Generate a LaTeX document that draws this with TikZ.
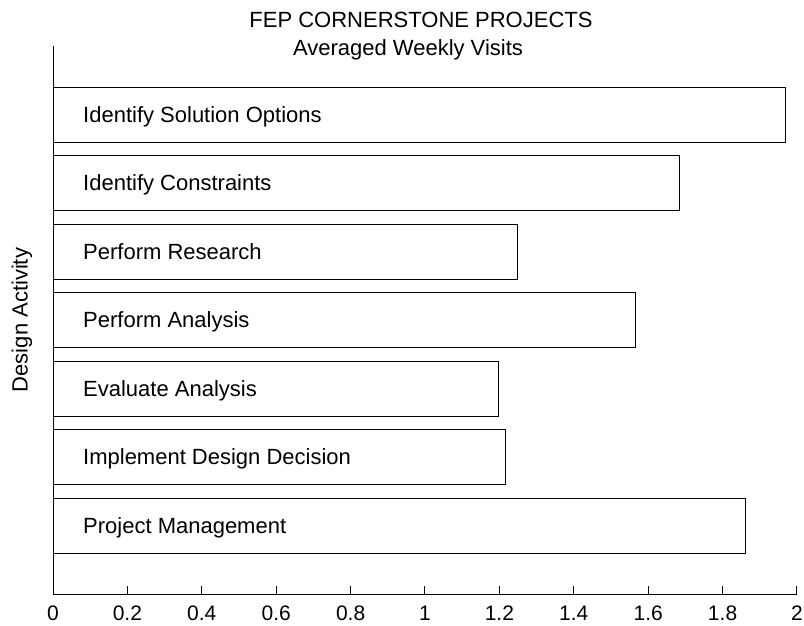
\documentclass[tikz,border=0pt]{standalone}
\usepackage{fontspec}
\setmainfont{Liberation Sans}
\begin{document}
\begin{tikzpicture}[x=1pt,y=-1pt,
  lbl/.style={font=\fontsize{22}{26}\selectfont, inner sep=0pt},
  barlbl/.style={lbl, anchor=west},
  ticklbl/.style={font=\fontsize{21}{25}\selectfont, inner sep=0pt, anchor=center},
  bar/.style={draw=black, line width=1pt, fill=white},
  axis/.style={draw=black, line width=1pt}]
\useasboundingbox (0,0) rectangle (804,625);
% scale: x0 = 53, 372 per unit; category pitch 68.5
\def\xo{53}
\def\ux{372}
% titles
\node[lbl] (title) at (421,20) {FEP CORNERSTONE PROJECTS};
\node[lbl] (subtitle) at (408,49.5) {Averaged Weekly Visits};
% bars (value, label)
\foreach \v/\t [count=\i] in {1.968/Identify Solution Options,
                              1.684/Identify Constraints,
                              1.248/Perform Research,
                              1.565/Perform Analysis,
                              1.198/Evaluate Analysis,
                              1.216/Implement Design Decision,
                              1.861/Project Management}{
  \pgfmathsetmacro{\yc}{46+68.5*\i}
  \pgfmathsetmacro{\xr}{\xo+\ux*\v}
  \draw[bar] (\xo,\yc-27.5) rectangle (\xr,\yc+27.5);
  \node[barlbl] (b\i) at (83,\yc) {\vphantom{I}\smash{\t}};
}
% axes
\coordinate (ytop) at (\xo,46);
\coordinate (orig) at (\xo,594);
\coordinate (xend) at (\xo+2*\ux,594);
\draw[axis] (ytop) -- (orig) -- (xend);
\foreach \k in {0,...,10}{
  \pgfmathsetmacro{\xt}{\xo+\ux*0.2*\k}
  \draw[axis] (\xt,594) -- (\xt,586);
}
\foreach \t/\k in {0/0,0.2/1,0.4/2,0.6/3,0.8/4,1/5,1.2/6,1.4/7,1.6/8,1.8/9,2/10}{
  \pgfmathsetmacro{\xt}{\xo+\ux*0.2*\k}
  \node[ticklbl] (t\k) at (\xt,613) {\t};
}
% y-axis title
\node[lbl, rotate=90] (ylab) at (22,320) {Design Activity};
\end{tikzpicture}
\end{document}
